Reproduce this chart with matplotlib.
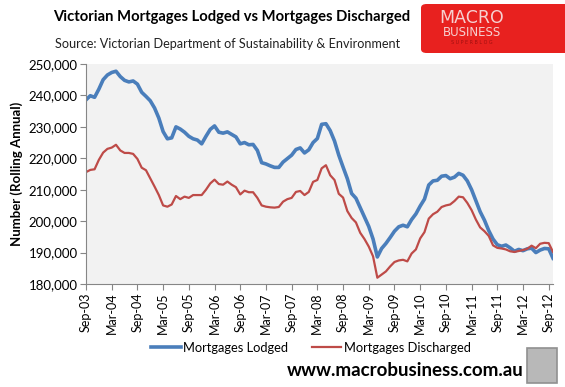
import numpy as np
import matplotlib
matplotlib.use("Agg")
import matplotlib.pyplot as plt
import matplotlib.patches as patches

plt.rcParams['font.family'] = ['Lato', 'DejaVu Sans']

# ── DATA (monthly, Sep-03 .. Oct-12, rolling annual) ──────────────
lodged = [
    238600, 239900, 239400, 242000, 245000, 246500, 247300, 247700, 246000, 244800,
    244300, 244600, 243600, 241000, 239700, 238300, 236000, 232800, 228500, 226200,
    226500, 230000, 229300, 228300, 227000, 226200, 225800, 224600, 227000, 229200,
    230300, 228300, 228000, 228400, 227600, 226800, 224600, 225000, 224300, 224400,
    222500, 218600, 218200, 217600, 217100, 217100, 218800, 219900, 221000, 222800,
    223300, 221700, 222700, 225000, 226300, 230800, 231000, 228800, 225500, 221000,
    217200, 213500, 208800, 207300, 204300, 201300, 198300, 194300, 188600, 191300,
    192900, 194800, 196800, 198200, 198700, 198200, 200500, 202300, 204800, 207000,
    211500, 212800, 213000, 214300, 214500, 213500, 214000, 215200, 214600, 212800,
    210000, 206500, 203000, 200300, 197000, 194300, 192500, 192000, 192400, 191500,
    190400, 191000, 190600, 191200, 191400, 190000, 190800, 191300, 191200, 188200,
]

discharged = [
    215600, 216300, 216500, 219500, 221800, 223000, 223400, 224300, 222500, 221700,
    221700, 221400, 219800, 217000, 216200, 213600, 211000, 208300, 205000, 204600,
    205300, 208000, 207000, 207800, 207400, 208300, 208300, 208300, 210000, 212000,
    213200, 211800, 211600, 212600, 211600, 210800, 208500, 209700, 209200, 209200,
    207400, 205000, 204600, 204400, 204300, 204500, 206200, 207000, 207400, 209300,
    209600, 208300, 209300, 212500, 213100, 216800, 217800, 214600, 213100, 208700,
    207500, 203200, 201000, 199600, 196300, 194300, 191900, 188800, 182000, 183000,
    184000, 185600, 187000, 187500, 187700, 187200, 189700, 191000, 194500, 196500,
    200800, 202200, 203000, 204500, 205000, 205300, 206400, 207800, 207600, 205800,
    203500, 200500, 198000, 196800, 195300, 192300, 191500, 191300, 191000, 190400,
    190200, 190500, 190800, 191200, 192200, 191400, 192800, 193100, 193000, 190200,
]

tick_labels = ['Sep-03', 'Mar-04', 'Sep-04', 'Mar-05', 'Sep-05', 'Mar-06', 'Sep-06',
               'Mar-07', 'Sep-07', 'Mar-08', 'Sep-08', 'Mar-09', 'Sep-09', 'Mar-10',
               'Sep-10', 'Mar-11', 'Sep-11', 'Mar-12', 'Sep-12']

series_names = ['Mortgages Lodged', 'Mortgages Discharged']

# ── FIGURE ─────────────────────────────────────────────────────────
W, H = 565, 387
fig = plt.figure(figsize=(W / 100, H / 100), dpi=100)
ax = fig.add_axes([86/W, 1 - 284/H, (553 - 86)/W, (284 - 64)/H])
ax.set_facecolor('#F2F2F2')

x = np.arange(len(lodged))
ax.plot(x, lodged, color='#4A7EBB', linewidth=2.6, label=series_names[0],
        solid_joinstyle='round')
ax.plot(x, discharged, color='#BE4B48', linewidth=1.6, label=series_names[1],
        solid_joinstyle='round')

ax.set_xlim(0, len(lodged) - 1)
ax.set_ylim(180000, 250000)
ax.set_yticks(np.arange(180000, 250001, 10000))
ax.set_yticklabels([f'{v:,}' for v in range(180000, 250001, 10000)], fontsize=9.5)
ax.set_xticks(np.arange(0, 6 * len(tick_labels), 6))
ax.set_xticklabels(tick_labels, rotation=90, fontsize=9)

for s in ['top', 'right']:
    ax.spines[s].set_visible(False)
for s in ['left', 'bottom']:
    ax.spines[s].set_color('#868686')
ax.tick_params(axis='both', direction='out', length=4, color='#868686', pad=2)

ax.set_ylabel('Number (Rolling Annual)', fontsize=9.5, fontweight='bold', labelpad=4)

# ── TITLES ─────────────────────────────────────────────────────────
fig.text(232/W, 1 - 17/H, 'Victorian Mortgages Lodged vs Mortgages Discharged',
         ha='center', va='center', fontsize=10.6, fontweight='bold')
fig.text(55/W, 1 - 44/H, 'Source: Victorian Department of Sustainability & Environment',
         ha='left', va='center', fontsize=9.1, color='#222222')

# logo box
logo = patches.FancyBboxPatch((421/W, 1 - 53/H), 150/W, 49/H,
                              boxstyle='round,pad=0,rounding_size=0.01',
                              transform=fig.transFigure, facecolor='#E8211F',
                              edgecolor='none')
fig.patches.append(logo)
fig.text(472/W, 1 - 18/H, 'MACRO', ha='center', va='center', fontsize=12.5,
         color='#F6D0D0', family=['DejaVu Sans'])
fig.text(472/W, 1 - 33/H, 'BUSINESS', ha='center', va='center', fontsize=8.5,
         color='#F6D0D0', family=['DejaVu Sans'])
fig.text(472/W, 1 - 43/H, 'S U P E R B L O G', ha='center', va='center', fontsize=3.5,
         color='#A01010', family=['DejaVu Sans'])

# ── LEGEND ─────────────────────────────────────────────────────────
fig.legend(loc='center', bbox_to_anchor=(311/W, 1 - 348/H), ncol=2, frameon=False,
           fontsize=9.3, handlelength=2.3, columnspacing=1.8, handletextpad=0.2,
           borderaxespad=0)

fig.text(405/W, 1 - 370/H, 'www.macrobusiness.com.au', ha='center', va='center',
         fontsize=13.5, fontweight='bold')

wolf = patches.Rectangle((527/W, 1 - 383/H), 30/W, 35/H, transform=fig.transFigure,
                         facecolor='#B8B8B8', edgecolor='#909090', linewidth=1.2)
fig.patches.append(wolf)

fig.savefig('out.png', dpi=100)
